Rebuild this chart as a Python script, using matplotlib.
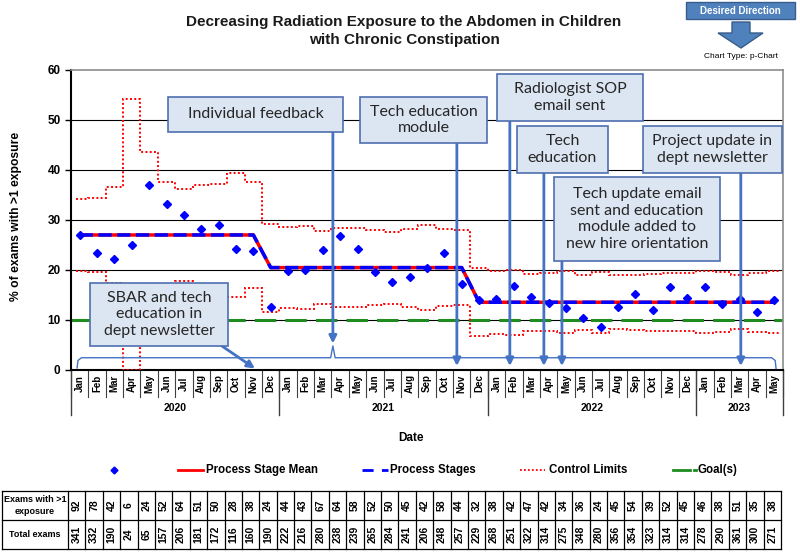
import matplotlib.pyplot as plt
from matplotlib.patches import Rectangle, Polygon
from matplotlib.lines import Line2D
from matplotlib.transforms import blended_transform_factory
import numpy as np

plt.rcParams['font.family'] = ['Liberation Sans', 'DejaVu Sans']

months = ['Jan', 'Feb', 'Mar', 'Apr', 'May', 'Jun', 'Jul', 'Aug', 'Sep', 'Oct', 'Nov', 'Dec']
month_labels = months * 3 + months[:5]
years = ['2020', '2021', '2022', '2023']
exams_gt1 = [92, 78, 42, 6, 24, 52, 64, 51, 50, 28, 38,
             24, 44, 43, 67, 64, 58, 52, 50, 45, 42, 58, 44,
             32, 38, 42, 47, 42, 34, 36, 24, 45, 54, 39, 52, 45, 46, 38, 51, 35, 38]
total_exams = [341, 332, 190, 24, 65, 157, 206, 181, 172, 116, 160,
               190, 222, 216, 280, 238, 239, 265, 284, 241, 206, 248, 257,
               229, 268, 251, 322, 314, 275, 348, 280, 356, 354, 323, 314, 314, 278, 290, 361, 300, 271]
stage_starts = [0, 11, 23]   # Jan 2020, Dec 2020, Dec 2021
goal = 10

notes = ['Individual feedback',
         'SBAR and tech\neducation in\ndept newsletter',
         'Tech education\nmodule',
         'Radiologist SOP\nemail sent',
         'Tech\neducation',
         'Tech update email\nsent and education\nmodule added to\nnew hire orientation',
         'Project update in\ndept newsletter']

# p-chart values
num = np.array(exams_gt1, float)
den = np.array(total_exams, float)
n = len(num)
pct = num / den * 100
pbar = np.zeros(n)
bounds = stage_starts + [n]
for a, b in zip(bounds[:-1], bounds[1:]):
    pbar[a:b] = num[a:b].sum() / den[a:b].sum()
sig = np.sqrt(pbar * (1 - pbar) / den)
ucl = (pbar + 3 * sig) * 100
lcl = np.clip(pbar - 3 * sig, 0, None) * 100
mean = pbar * 100

W, H = 800, 553
fig = plt.figure(figsize=(8, 5.53), dpi=100)
def fx(px): return px / W
def fy(py): return 1 - py / H

ax = fig.add_axes([fx(71), fy(370), (783 - 71) / W, 300 / H])
x = np.arange(n)
ax.set_xlim(-0.5, n - 0.5)
ax.set_ylim(0, 60)

for g in [10, 20, 30, 40, 50]:
    ax.axhline(g, color='black', lw=0.8, zorder=1)
ax.axhline(goal, color='#1E8C1E', lw=2.2, dashes=(7, 3), zorder=2)

edges = np.r_[-0.2, np.arange(0.5, n - 1, 1), n - 0.6]
ax.stairs(ucl, edges, color='red', lw=1.4, linestyle=(0, (1, 1.2)), zorder=3, baseline=None)
ax.stairs(lcl, edges, color='red', lw=1.4, linestyle=(0, (1, 1.2)), zorder=3, baseline=None)
ax.plot(x, mean, color='red', lw=2.5, zorder=4)
ax.plot(x, mean, color='blue', lw=2.5, dashes=(3.8, 1.6), zorder=5)
ax.plot(x, pct, 'D', color='blue', ms=4.2, zorder=6)

ax.set_yticks(range(0, 61, 10))
ax.set_yticklabels([str(v) for v in range(0, 61, 10)], fontweight='bold', fontsize=8.5)
ax.tick_params(axis='y', length=4, width=1)
ax.set_xticks([])
for s in ['left', 'bottom']:
    ax.spines[s].set_linewidth(1.5)
    ax.spines[s].set_color('black')
for s in ['top', 'right']:
    ax.spines[s].set_linewidth(1.2)
    ax.spines[s].set_color('#8c8c8c')

# month / year category axis
tr = blended_transform_factory(ax.transData, ax.transAxes)
for i in range(n + 1):
    ax.plot([i - 0.5, i - 0.5], [0, -0.09], color='#404040', lw=0.8, transform=tr, clip_on=False)
for i, lab in enumerate(month_labels):
    ax.text(i, -0.045, lab, transform=tr, rotation=90, ha='center', va='center',
            fontsize=7, fontweight='bold')
year_edges = [-0.5, 11.5, 23.5, 35.5, n - 0.5]
for e in year_edges:
    ax.plot([e, e], [0, -0.15], color='#404040', lw=1.0, transform=tr, clip_on=False)
for y, a, b in zip(years, year_edges[:-1], year_edges[1:]):
    ax.text((a + b) / 2, -0.127, y, transform=tr, ha='center', va='center',
            fontsize=7.5, fontweight='bold')

# brace along the bottom
bx = [-0.15, -0.1, 0.1, 14.45, 14.58, 14.71, 39.85, 40.05, 40.1]
by = [0.4, 1.9, 2.45, 2.45, 4.8, 2.45, 2.45, 1.9, 0.3]
ax.plot(bx, by, color='#4472C4', lw=1.0, zorder=8)

# callouts
boxes = [(5.08, 47.6, 15.16, 54.6),
         (0.59, 4.8, 8.54, 17.4),
         (16.14, 45.4, 23.45, 54.6),
         (24.03, 49.8, 32.43, 59.2),
         (25.18, 39.4, 30.42, 48.8),
         (27.31, 21.8, 36.86, 38.6),
         (32.43, 39.4, 40.43, 48.8)]
for txt, (x0, y0, x1, y1) in zip(notes, boxes):
    ax.add_patch(Rectangle((x0, y0), x1 - x0, y1 - y0, facecolor='#DCE6F2',
                           edgecolor='#4F6FAF', lw=1.2, zorder=10))
    ax.text((x0 + x1) / 2, (y0 + y1) / 2, txt, ha='center', va='center', fontsize=11.5,
            family='Lato', color='#262626', linespacing=1.25, zorder=11)

arrows = [((14.58, 47.6), (14.58, 5.3)),
          ((8.19, 4.8), (10.09, 0.3)),
          ((21.72, 45.4), (21.72, 0.8)),
          ((24.77, 49.8), (24.77, 0.8)),
          ((26.73, 39.4), (26.73, 0.8)),
          ((27.77, 21.8), (27.77, 0.8)),
          ((38.07, 39.4), (38.07, 0.8))]
for start, end in arrows:
    ax.annotate('', xy=end, xytext=start, zorder=9,
                arrowprops=dict(arrowstyle='-|>', color='#4472C4', lw=2,
                                mutation_scale=11, shrinkA=0, shrinkB=0))

# titles and labels
fig.text(fx(404), fy(31), 'Decreasing Radiation Exposure to the Abdomen in Children\nwith Chronic Constipation',
         ha='center', va='center', fontsize=11, fontweight='bold', linespacing=1.3, color='#1a1a1a')
fig.text(fx(16), fy(216), '% of exams with >1 exposure', rotation=90, ha='center', va='center',
         fontsize=8.7, fontweight='bold')
fig.text(fx(411), fy(438), 'Date', ha='center', va='center', fontsize=8.5, fontweight='bold')

# desired direction
fig.add_artist(Rectangle((fx(686), fy(19)), 109 / W, 17 / H, transform=fig.transFigure,
                         facecolor='#4F81BD', edgecolor='#385D8A', lw=1))
fig.text(fx(740), fy(10.5), 'Desired Direction', ha='center', va='center', fontsize=7,
         fontweight='bold', color='white')
arrow_px = [(732, 22), (750, 22), (750, 33), (763, 33), (741, 48), (718, 33), (732, 33)]
fig.add_artist(Polygon([(fx(a), fy(b)) for a, b in arrow_px], closed=True, transform=fig.transFigure,
                       facecolor='#4F81BD', edgecolor='#385D8A', lw=1))
fig.text(fx(741), fy(57), 'Chart Type: p-Chart', ha='center', va='center', fontsize=6)

# legend
ly = fy(470)
fig.add_artist(Line2D([fx(114)], [ly], marker='D', color='blue', ms=3.5, transform=fig.transFigure))
fig.add_artist(Line2D([fx(178), fx(203)], [ly, ly], color='red', lw=2, transform=fig.transFigure))
fig.text(fx(206), ly, 'Process Stage Mean', va='center', fontsize=8.3, fontweight='bold')
fig.add_artist(Line2D([fx(362), fx(388)], [ly, ly], color='blue', lw=2, dashes=(4, 3),
                      transform=fig.transFigure))
fig.text(fx(390), ly, 'Process Stages', va='center', fontsize=8.3, fontweight='bold')
fig.add_artist(Line2D([fx(520), fx(545)], [ly, ly], color='red', lw=1.3, linestyle=(0, (1, 1.2)),
                      transform=fig.transFigure))
fig.text(fx(549), ly, 'Control Limits', va='center', fontsize=8.3, fontweight='bold')
fig.add_artist(Line2D([fx(673), fx(690)], [ly, ly], color='#1E8C1E', lw=2, transform=fig.transFigure))
fig.add_artist(Line2D([fx(694), fx(696)], [ly, ly], color='#1E8C1E', lw=2, transform=fig.transFigure))
fig.text(fx(698), ly, 'Goal(s)', va='center', fontsize=8.3, fontweight='bold')

# data table
tb = fig.add_axes([fx(68), fy(549), (781 - 68) / W, 58 / H])
tb.set_xlim(-0.5, n - 0.5)
tb.set_ylim(0, 2)
tb.axis('off')
left = -0.5 - 66 / 17.39
for v in [left] + list(np.arange(n + 1) - 0.5):
    tb.plot([v, v], [0, 2], color='black', lw=0.9, clip_on=False)
for h in [0, 1, 2]:
    tb.plot([left, n - 0.5], [h, h], color='black', lw=0.9, clip_on=False)
tb.text((left - 0.5) / 2, 1.5, 'Exams with >1\nexposure', ha='center', va='center',
        fontsize=6.5, fontweight='bold', linespacing=1.3)
tb.text((left - 0.5) / 2, 0.5, 'Total exams', ha='center', va='center',
        fontsize=6.5, fontweight='bold')
for i in range(n):
    tb.text(i, 1.5, str(exams_gt1[i]), rotation=90, ha='center', va='center', fontsize=7.5, fontweight='bold')
    tb.text(i, 0.5, str(total_exams[i]), rotation=90, ha='center', va='center', fontsize=7.5, fontweight='bold')

fig.savefig('out.png', dpi=100)
